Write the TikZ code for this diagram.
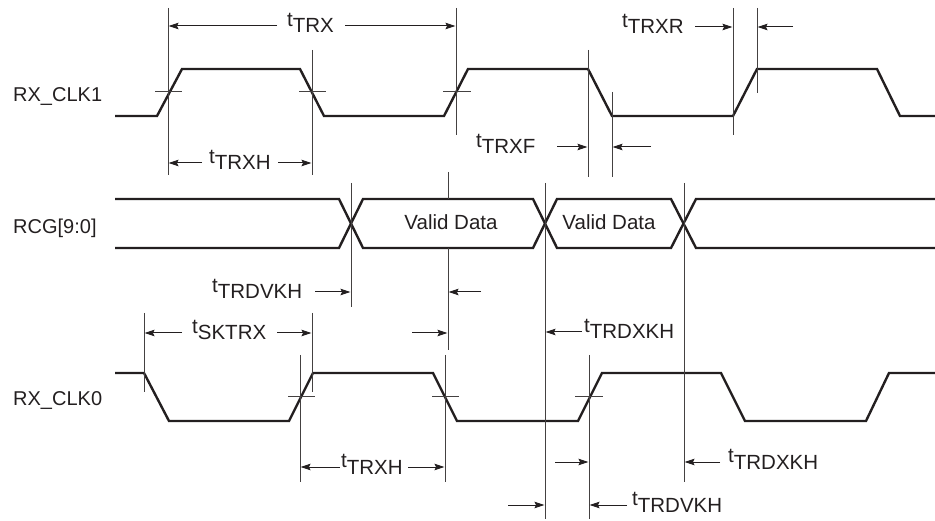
\documentclass[tikz,border=0pt]{standalone}
\usepackage{fontspec}
\setmainfont{Liberation Sans}
\usetikzlibrary{arrows.meta}
\definecolor{ink}{HTML}{231F20}
\newcommand{\tsub}[1]{\raisebox{0.32em}{t}#1}
\begin{document}
\begin{tikzpicture}[x=1pt,y=-1pt,
  wave/.style={line width=2.4pt, draw=ink},
  guide/.style={line width=1pt, draw=ink!85},
  dim/.style={line width=1pt, draw=ink, -{Stealth[length=10pt,width=6.5pt,inset=1.5pt]}},
  lbl/.style={anchor=base west, inner sep=0pt, font=\fontsize{20.5}{24}\selectfont, text=ink},
  slbl/.style={anchor=base west, inner sep=0pt, font=\fontsize{20}{24}\selectfont, text=ink},
  clbl/.style={anchor=base, inner sep=0pt, font=\fontsize{20.5}{24}\selectfont, text=ink},
]
\useasboundingbox (0,0) rectangle (935,521);

% signal names
\node[slbl] (n1) at (13,102) {RX\_CLK1};
\node[slbl] (n2) at (13,234) {RCG[9:0]};
\node[slbl] (n3) at (13,406) {RX\_CLK0};

% RX_CLK1 waveform
\draw[wave] (115,116) -- (157,116) -- (182,69) -- (300,69) -- (324,116) -- (444,116) -- (468,69)
  -- (588,69) -- (612,116) -- (733,116) -- (757,69) -- (877,69) -- (900,116) -- (935,116);
\draw[guide] (155,92) -- (182,92);
\draw[guide] (299,92) -- (326,92);
\draw[guide] (443,92) -- (471,92);

% RCG bus
\draw[wave] (115,199) -- (339,199) -- (363,248) -- (533,248) -- (557,199) -- (671,199) -- (696,248) -- (935,248);
\draw[wave] (115,248) -- (339,248) -- (363,199) -- (533,199) -- (557,248) -- (671,248) -- (696,199) -- (935,199);
\node[clbl] (v1) at (451,230) {Valid Data};
\node[clbl] (v2) at (609,230) {Valid Data};

% RX_CLK0 waveform
\draw[wave] (115,373) -- (144,373) -- (169,421) -- (289,421) -- (313,373) -- (433,373) -- (457,421)
  -- (578,421) -- (602,373) -- (721,373) -- (745,421) -- (866,421) -- (889,373) -- (935,373);
\draw[guide] (288,397) -- (315,397);
\draw[guide] (432,397) -- (459,397);
\draw[guide] (575,397) -- (603,397);

% vertical reference lines
\draw[guide] (168,8) -- (168,175);
\draw[guide] (312,50) -- (312,175);
\draw[guide] (456,8) -- (456,135);
\draw[guide] (588,50) -- (588,177);
\draw[guide] (612,92) -- (612,177);
\draw[guide] (733,8) -- (733,135);
\draw[guide] (757,8) -- (757,93);
\draw[guide] (351,183) -- (351,307);
\draw[guide] (448,172) -- (448,199);
\draw[guide] (448,248) -- (448,350);
\draw[guide] (545,183) -- (545,519);
\draw[guide] (684,183) -- (684,482);
\draw[guide] (144,313) -- (144,392);
\draw[guide] (312,313) -- (312,392);
\draw[guide] (300,355) -- (300,482);
\draw[guide] (445,355) -- (445,482);
\draw[guide] (589,355) -- (589,519);

% dimension labels and arrows
\node[lbl] (tTRX) at (287,33) {\tsub{TRX}};
\draw[dim] (277,26) -- (168.5,26);
\draw[dim] (345,26) -- (455.5,26);

\node[lbl] (tTRXHa) at (209,170) {\tsub{TRXH}};
\draw[dim] (202,163) -- (168.5,163);
\draw[dim] (278,163) -- (311.5,163);

\node[lbl] (tTRXR) at (622,34) {\tsub{TRXR}};
\draw[dim] (695,27) -- (732.5,27);
\draw[dim] (793,27) -- (757.5,27);

\node[lbl] (tTRXF) at (476,154) {\tsub{TRXF}};
\draw[dim] (557,147) -- (587.5,147);
\draw[dim] (651,147) -- (612.5,147);

\node[lbl] (tTRDVKHa) at (212,299) {\tsub{TRDVKH}};
\draw[dim] (315,292) -- (350.5,292);
\draw[dim] (481,292) -- (448.5,292);

\node[lbl] (tSKTRX) at (192,340) {\tsub{SKTRX}};
\draw[dim] (182,333) -- (144.5,333);
\draw[dim] (277,333) -- (311.5,333);

\draw[dim] (412,333) -- (447.5,333);
\node[lbl] (tTRDXKHa) at (584,339) {\tsub{TRDXKH}};
\draw[dim] (582,332) -- (545.5,332);

\node[lbl] (tTRXHb) at (341,474) {\tsub{TRXH}};
\draw[dim] (340,467) -- (300.5,467);
\draw[dim] (408,467) -- (444.5,467);

\draw[dim] (555,462) -- (588.5,462);
\node[lbl] (tTRDXKHb) at (728,469) {\tsub{TRDXKH}};
\draw[dim] (720,462) -- (684.5,462);

\draw[dim] (508,505) -- (544.5,505);
\node[lbl] (tTRDVKHb) at (632,512) {\tsub{TRDVKH}};
\draw[dim] (627,505) -- (589.5,505);
\end{tikzpicture}
\end{document}
